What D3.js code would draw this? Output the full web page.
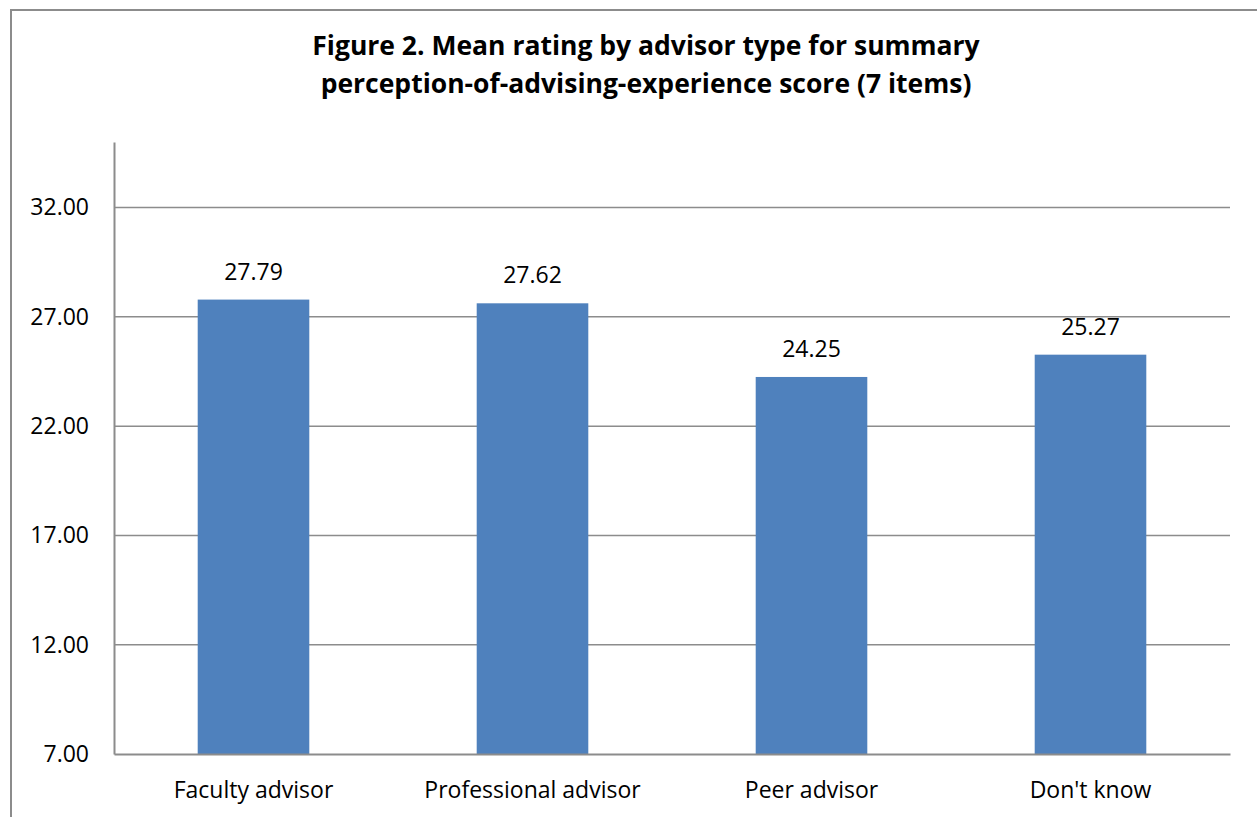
<!DOCTYPE html>
<html>
<head>
<meta charset="utf-8">
<script src="https://cdn.jsdelivr.net/npm/d3@7"></script>
<style>
  html, body { margin: 0; padding: 0; background: #fff; }
  svg { display: block; }
  text { font-family: "Open Sans", Lato, sans-serif; fill: #000; }
</style>
</head>
<body>
<svg id="chart" width="1257" height="817"></svg>
<script>
// Chart data
const categories = ["Faculty advisor", "Professional advisor", "Peer advisor", "Don't know"];
const meanScores = [27.79, 27.62, 24.25, 25.27];
const yTicks = [7, 12, 17, 22, 27, 32];
const yDomain = [7, 35];
const titleLines = [
  "Figure 2. Mean rating by advisor type for summary",
  "perception-of-advising-experience score (7 items)"
];

const svg = d3.select("#chart");
const plot = { left: 114, right: 1230, top: 142, bottom: 754 };
const fontFamily = "'Open Sans', Lato, sans-serif";
const labelSize = 23;

// Outer frame (clipped on right and bottom)
svg.append("rect")
  .attr("x", 11).attr("y", 10)
  .attr("width", 1280).attr("height", 850)
  .attr("fill", "none")
  .attr("stroke", "#8c8c8c")
  .attr("stroke-width", 2);

// Title
svg.append("g").selectAll("text")
  .data(titleLines)
  .join("text")
  .attr("x", 646)
  .attr("y", (d, i) => 55 + i * 38)
  .attr("text-anchor", "middle")
  .attr("font-size", 26.5)
  .attr("font-weight", "bold")
  .text(d => d);

const x = d3.scaleBand()
  .domain(categories)
  .range([plot.left, plot.right])
  .paddingInner(0.6)
  .paddingOuter(0.3);

const y = d3.scaleLinear()
  .domain(yDomain)
  .range([plot.bottom, plot.top]);

// Horizontal gridlines
svg.append("g")
  .selectAll("line")
  .data(yTicks.filter(t => t > yDomain[0]))
  .join("line")
  .attr("x1", plot.left).attr("x2", plot.right)
  .attr("y1", d => y(d)).attr("y2", d => y(d))
  .attr("stroke", "#8c8c8c")
  .attr("stroke-width", 1.5);

// Y axis
const yAxis = svg.append("g")
  .attr("transform", `translate(${plot.left},0)`)
  .call(d3.axisLeft(y).tickValues(yTicks).tickFormat(d3.format(".2f")).tickSize(0).tickPadding(25));
yAxis.select(".domain").attr("stroke", "#8c8c8c").attr("stroke-width", 2);
yAxis.selectAll("text")
  .attr("font-size", labelSize)
  .attr("font-family", fontFamily)
  .attr("fill", "#000");

// Bars
svg.append("g")
  .selectAll("rect")
  .data(categories)
  .join("rect")
  .attr("x", d => x(d))
  .attr("width", x.bandwidth())
  .attr("y", (d, i) => y(meanScores[i]))
  .attr("height", (d, i) => y(yDomain[0]) - y(meanScores[i]))
  .attr("fill", "#4F81BD");

// X axis baseline and category labels
const xAxis = svg.append("g")
  .attr("transform", `translate(0,${plot.bottom})`)
  .call(d3.axisBottom(x).tickSize(0).tickPadding(28));
xAxis.select(".domain").attr("stroke", "#8c8c8c").attr("stroke-width", 2);
xAxis.selectAll("text")
  .attr("font-size", labelSize)
  .attr("font-family", fontFamily)
  .attr("fill", "#000");

// Value labels
svg.append("g")
  .selectAll("text")
  .data(categories)
  .join("text")
  .attr("x", d => x(d) + x.bandwidth() / 2)
  .attr("y", (d, i) => y(meanScores[i]) - 20)
  .attr("text-anchor", "middle")
  .attr("font-size", labelSize)
  .text((d, i) => d3.format(".2f")(meanScores[i]));
</script>
</body>
</html>
